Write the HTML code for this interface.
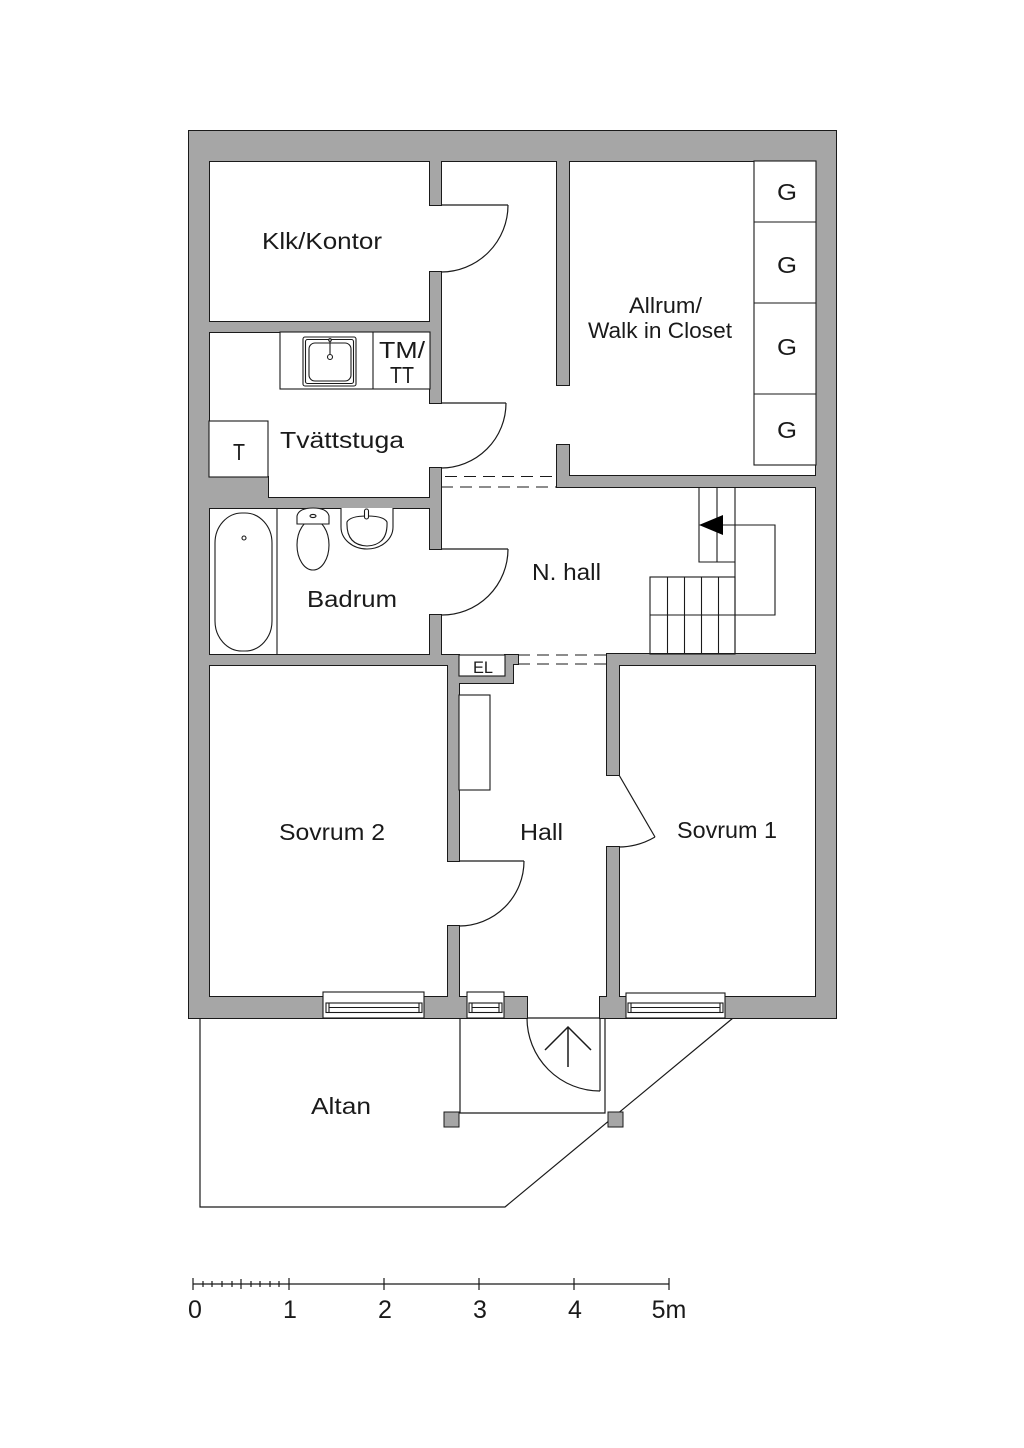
<!DOCTYPE html>
<html>
<head>
<meta charset="utf-8">
<style>
  html,body{margin:0;padding:0;background:#fff;}
  svg{display:block;}
  text{font-family:"Liberation Sans",sans-serif;fill:#1a1a1a;}
</style>
</head>
<body>
<svg width="1024" height="1448" viewBox="0 0 1024 1448" xmlns="http://www.w3.org/2000/svg">
<rect x="0" y="0" width="1024" height="1448" fill="#fff"/>

<!-- Altan & porch outlines -->
<g fill="none" stroke="#1a1a1a" stroke-width="1.2">
  <polyline points="200,1018 200,1207 505,1207 733,1018"/>
  <polyline points="460,1018 460,1113 605,1113 605,1018"/>
  <line x1="460" y1="1018" x2="605" y2="1018"/>
</g>
<rect x="444" y="1112" width="15" height="15" fill="#a6a6a6" stroke="#1a1a1a" stroke-width="1"/>
<rect x="608" y="1112" width="15" height="15" fill="#a6a6a6" stroke="#1a1a1a" stroke-width="1"/>

<!-- Interior white -->
<rect x="209" y="161" width="607" height="836" fill="#fff"/>

<!-- Walls: pass 1 (stroke) -->
<g fill="#a6a6a6" stroke="#1a1a1a" stroke-width="2">
  <rect x="189" y="131" width="647" height="30"/>
  <rect x="189" y="131" width="20" height="887"/>
  <rect x="816" y="131" width="20" height="887"/>
  <rect x="189" y="997" width="338" height="21"/>
  <rect x="600" y="997" width="236" height="21"/>
  <rect x="209" y="322" width="222" height="10"/>
  <rect x="430" y="161" width="11" height="44"/>
  <rect x="430" y="272" width="11" height="131"/>
  <rect x="430" y="468" width="11" height="81"/>
  <rect x="430" y="615" width="11" height="50"/>
  <rect x="268" y="498" width="163" height="10"/>
  <rect x="209" y="477" width="59" height="31"/>
  <rect x="209" y="655" width="250" height="10"/>
  <rect x="448" y="655" width="11" height="206"/>
  <rect x="459" y="676" width="54" height="7"/>
  <rect x="505" y="655" width="8" height="28"/>
  <rect x="505" y="655" width="13" height="9"/>
  <rect x="448" y="926" width="11" height="71"/>
  <rect x="607" y="654" width="209" height="11"/>
  <rect x="607" y="654" width="12" height="121"/>
  <rect x="607" y="847" width="12" height="150"/>
  <rect x="557" y="161" width="12" height="224"/>
  <rect x="557" y="445" width="12" height="42"/>
  <rect x="557" y="476" width="259" height="11"/>
</g>
<!-- Walls: pass 2 (fill, hides internal joints) -->
<g fill="#a6a6a6" stroke="none">
  <rect x="189" y="131" width="647" height="30"/>
  <rect x="189" y="131" width="20" height="887"/>
  <rect x="816" y="131" width="20" height="887"/>
  <rect x="189" y="997" width="338" height="21"/>
  <rect x="600" y="997" width="236" height="21"/>
  <rect x="209" y="322" width="222" height="10"/>
  <rect x="430" y="161" width="11" height="44"/>
  <rect x="430" y="272" width="11" height="131"/>
  <rect x="430" y="468" width="11" height="81"/>
  <rect x="430" y="615" width="11" height="50"/>
  <rect x="268" y="498" width="163" height="10"/>
  <rect x="209" y="477" width="59" height="31"/>
  <rect x="209" y="655" width="250" height="10"/>
  <rect x="448" y="655" width="11" height="206"/>
  <rect x="459" y="676" width="54" height="7"/>
  <rect x="505" y="655" width="8" height="28"/>
  <rect x="505" y="655" width="13" height="9"/>
  <rect x="448" y="926" width="11" height="71"/>
  <rect x="607" y="654" width="209" height="11"/>
  <rect x="607" y="654" width="12" height="121"/>
  <rect x="607" y="847" width="12" height="150"/>
  <rect x="557" y="161" width="12" height="224"/>
  <rect x="557" y="445" width="12" height="42"/>
  <rect x="557" y="476" width="259" height="11"/>
</g>

<!-- Windows -->
<g fill="#fff" stroke="#1a1a1a" stroke-width="1.1">
  <rect x="323" y="992" width="101" height="26"/>
  <rect x="326" y="1003" width="96" height="9.5"/>
  <line x1="329" y1="1003" x2="329" y2="1012.5"/>
  <line x1="419" y1="1003" x2="419" y2="1012.5"/>
  <line x1="329" y1="1007.5" x2="419" y2="1007.5"/>

  <rect x="467" y="992" width="37" height="26"/>
  <rect x="469" y="1003" width="33" height="9.5"/>
  <line x1="472" y1="1003" x2="472" y2="1012.5"/>
  <line x1="499" y1="1003" x2="499" y2="1012.5"/>
  <line x1="472" y1="1007.5" x2="499" y2="1007.5"/>

  <rect x="626" y="993" width="99" height="25"/>
  <rect x="628" y="1003" width="95" height="9.5"/>
  <line x1="631" y1="1003" x2="631" y2="1012.5"/>
  <line x1="720" y1="1003" x2="720" y2="1012.5"/>
  <line x1="631" y1="1007.5" x2="720" y2="1007.5"/>
</g>

<!-- EL cabinet -->
<rect x="459" y="655" width="46" height="21" fill="#fff" stroke="#1a1a1a" stroke-width="1.1"/>

<!-- Dashed lines -->
<g stroke="#1a1a1a" stroke-width="1" stroke-dasharray="12,7" fill="none">
  <line x1="445" y1="476.5" x2="557" y2="476.5"/>
  <line x1="441" y1="487" x2="557" y2="487"/>
  <line x1="518" y1="655" x2="607" y2="655"/>
  <line x1="518" y1="664" x2="607" y2="664"/>
</g>

<!-- Doors -->
<g fill="none" stroke="#1a1a1a" stroke-width="1.2">
  <line x1="441" y1="205" x2="508" y2="205"/>
  <path d="M508,205 A67,67 0 0 1 441,272"/>
  <line x1="441" y1="403" x2="506" y2="403"/>
  <path d="M506,403 A65,65 0 0 1 441,468"/>
  <line x1="441" y1="549" x2="508" y2="549"/>
  <path d="M508,549 A66,66 0 0 1 441,615"/>
  <line x1="459" y1="861" x2="524" y2="861"/>
  <path d="M524,861 A65,65 0 0 1 459,926"/>
  <line x1="619" y1="775" x2="655" y2="837"/>
  <path d="M655,837 A72,72 0 0 1 619,847"/>
  <line x1="600" y1="1018" x2="600" y2="1091"/>
  <path d="M527,1018 A73,73 0 0 0 600,1091"/>
  <!-- entry arrow -->
  <line x1="568" y1="1027" x2="568" y2="1067" stroke-width="1.5"/>
  <polyline points="545,1050 568,1027 591,1050" stroke-width="1.5"/>
</g>

<!-- Fixtures -->
<g fill="#fff" stroke="#1a1a1a" stroke-width="1.1">
  <!-- wardrobes -->
  <rect x="754" y="161" width="62" height="304"/>
  <line x1="754" y1="222" x2="816" y2="222"/>
  <line x1="754" y1="303" x2="816" y2="303"/>
  <line x1="754" y1="394" x2="816" y2="394"/>
  <!-- T box -->
  <rect x="209" y="421" width="59" height="56"/>
  <!-- counter -->
  <rect x="280" y="332" width="150" height="57"/>
  <line x1="373" y1="332" x2="373" y2="389"/>
  <!-- sink -->
  <rect x="303" y="337" width="53" height="49" rx="2"/>
  <rect x="305.5" y="339.5" width="48" height="44" rx="2"/>
  <rect x="309" y="343" width="42" height="38" rx="6"/>
  <line x1="330" y1="341" x2="330" y2="354"/>
  <circle cx="330" cy="357" r="2.5"/>
  <circle cx="330" cy="340" r="1.3"/>
  <!-- bath -->
  <line x1="277" y1="508" x2="277" y2="655"/>
  <rect x="215" y="513" width="57" height="138" rx="27" ry="30"/>
  <circle cx="244" cy="538" r="2"/>
  <!-- toilet -->
  <ellipse cx="313" cy="545" rx="16" ry="25"/>
  <path d="M297,524 L297,516 Q299,508 313,508 Q327,508 329,516 L329,524 Z"/>
  <ellipse cx="313" cy="516" rx="3" ry="1.6"/>
  <!-- basin -->
  <path d="M341,508 L341,527 A26,22 0 0 0 393,527 L393,508"/>
  <path d="M347,522 Q350,516 367,516 Q384,516 387,522 Q388,545 367,546 Q346,545 347,522 Z"/>
  <rect x="364.5" y="509" width="4" height="10" rx="2"/>
  <!-- hall shelf -->
  <rect x="459" y="695" width="31" height="95"/>
</g>

<!-- Stairs -->
<g fill="none" stroke="#1a1a1a" stroke-width="1.1">
  <polyline points="699,487 699,562 735,562"/>
  <line x1="717" y1="487" x2="717" y2="562"/>
  <line x1="735" y1="487" x2="735" y2="654"/>
  <rect x="650" y="577" width="85" height="77"/>
  <line x1="650" y1="615" x2="735" y2="615"/>
  <line x1="667.5" y1="577" x2="667.5" y2="654"/>
  <line x1="684.5" y1="577" x2="684.5" y2="654"/>
  <line x1="701.5" y1="577" x2="701.5" y2="654"/>
  <line x1="718.5" y1="577" x2="718.5" y2="654"/>
  <polyline points="723,525 775,525 775,615 735,615"/>
</g>
<polygon points="699,525 723,515 723,535" fill="#000"/>

<!-- Labels -->
<g font-size="23">
  <text x="262" y="249" textLength="120" lengthAdjust="spacingAndGlyphs">Klk/Kontor</text>
  <text x="280" y="448" textLength="124" lengthAdjust="spacingAndGlyphs">Tvättstuga</text>
  <text x="379" y="358" textLength="46" lengthAdjust="spacingAndGlyphs">TM/</text>
  <text x="390" y="383" textLength="24" lengthAdjust="spacingAndGlyphs">TT</text>
  <text x="233" y="460" textLength="12" lengthAdjust="spacingAndGlyphs">T</text>
  <text x="777" y="200" textLength="20" lengthAdjust="spacingAndGlyphs">G</text>
  <text x="777" y="273" textLength="20" lengthAdjust="spacingAndGlyphs">G</text>
  <text x="777" y="355" textLength="20" lengthAdjust="spacingAndGlyphs">G</text>
  <text x="777" y="438" textLength="20" lengthAdjust="spacingAndGlyphs">G</text>
  <text x="629" y="313" font-size="22" textLength="73" lengthAdjust="spacingAndGlyphs">Allrum/</text>
  <text x="588" y="338" font-size="22" textLength="144" lengthAdjust="spacingAndGlyphs">Walk in Closet</text>
  <text x="307" y="607" textLength="90" lengthAdjust="spacingAndGlyphs">Badrum</text>
  <text x="532" y="580" textLength="69" lengthAdjust="spacingAndGlyphs">N. hall</text>
  <text x="473" y="673" font-size="17" textLength="20" lengthAdjust="spacingAndGlyphs">EL</text>
  <text x="520" y="840" textLength="43" lengthAdjust="spacingAndGlyphs">Hall</text>
  <text x="677" y="838" textLength="100" lengthAdjust="spacingAndGlyphs">Sovrum 1</text>
  <text x="279" y="840" textLength="106" lengthAdjust="spacingAndGlyphs">Sovrum 2</text>
  <text x="311" y="1114" textLength="60" lengthAdjust="spacingAndGlyphs">Altan</text>
</g>

<!-- Scale bar -->
<g stroke="#1a1a1a" stroke-width="1.2">
  <line x1="193" y1="1284" x2="669" y2="1284"/>
  <line x1="193" y1="1278" x2="193" y2="1290"/>
  <line x1="289" y1="1278" x2="289" y2="1290"/>
  <line x1="384" y1="1278" x2="384" y2="1290"/>
  <line x1="479" y1="1278" x2="479" y2="1290"/>
  <line x1="574" y1="1278" x2="574" y2="1290"/>
  <line x1="669" y1="1278" x2="669" y2="1290"/>
  <line x1="241" y1="1279" x2="241" y2="1289"/>
  <line x1="203" y1="1281" x2="203" y2="1287"/>
  <line x1="212" y1="1281" x2="212" y2="1287"/>
  <line x1="222" y1="1281" x2="222" y2="1287"/>
  <line x1="232" y1="1281" x2="232" y2="1287"/>
  <line x1="251" y1="1281" x2="251" y2="1287"/>
  <line x1="260" y1="1281" x2="260" y2="1287"/>
  <line x1="270" y1="1281" x2="270" y2="1287"/>
  <line x1="279" y1="1281" x2="279" y2="1287"/>
</g>
<g font-size="25" text-anchor="middle">
  <text x="195" y="1318">0</text>
  <text x="290" y="1318">1</text>
  <text x="385" y="1318">2</text>
  <text x="480" y="1318">3</text>
  <text x="575" y="1318">4</text>
  <text x="669" y="1318">5m</text>
</g>
</svg>
</body>
</html>
